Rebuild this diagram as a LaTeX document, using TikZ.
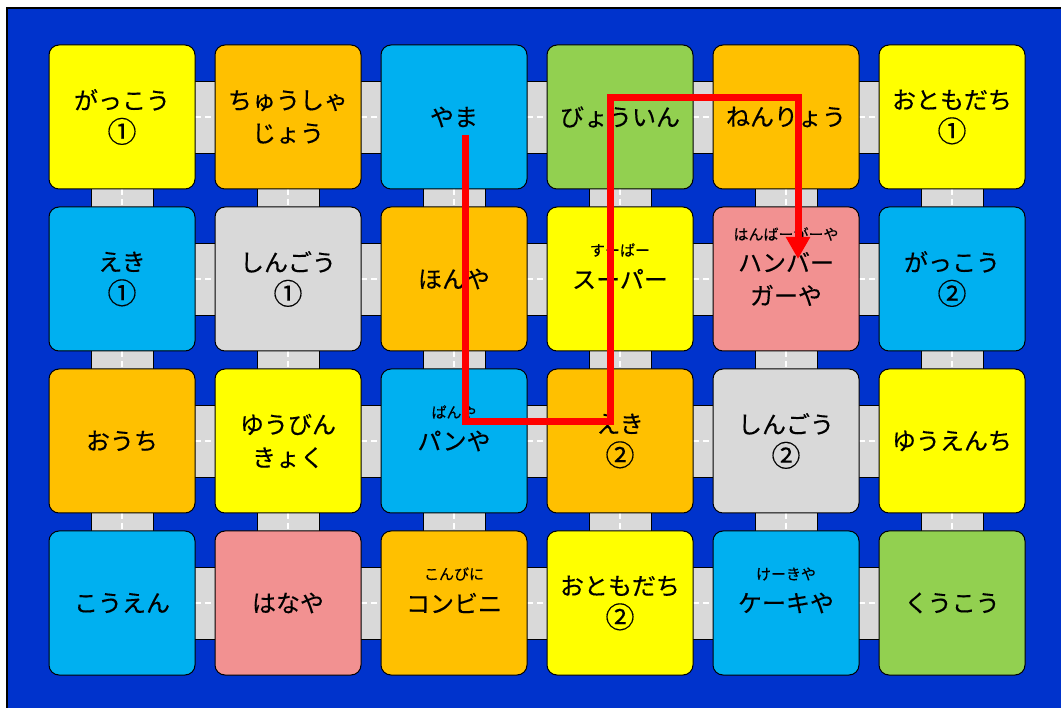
\documentclass[tikz,border=0pt]{standalone}
\usepackage{fontspec}
\setmainfont{Noto Sans CJK JP}[FakeBold=0.3]
\usetikzlibrary{calc,arrows.meta}

\definecolor{boardblue}{RGB}{0,51,204}
\definecolor{roadgray}{RGB}{217,217,217}
\definecolor{tileyellow}{RGB}{255,255,0}
\definecolor{tileorange}{RGB}{255,192,0}
\definecolor{tileblue}{RGB}{0,176,240}
\definecolor{tilegreen}{RGB}{146,208,80}
\definecolor{tilegray}{RGB}{217,217,217}
\definecolor{tilepink}{RGB}{242,145,145}

\newcommand{\bignum}[1]{{\fontsize{29}{33}\selectfont #1}}

\tikzset{
  tile/.style={draw=black, line width=1pt, rounded corners=10pt,
    minimum width=146pt, minimum height=144pt, align=center,
    font=\fontsize{24}{33}\selectfont, inner sep=0pt},
  ruby/.style={font=\fontsize{15}{16}\selectfont, inner sep=0pt},
  road/.style={draw=black, line width=0.8pt, fill=roadgray},
  roadline/.style={draw=white, line width=1.2pt, dash pattern=on 6pt off 4pt},
  route/.style={draw=red, line width=7pt, -{Triangle[width=23pt,length=22pt]}}
}

\begin{document}
\begin{tikzpicture}[x=1pt,y=-1pt]
  \useasboundingbox (0,0) rectangle (1061,708);
  \fill[white] (0,0) rectangle (1061,708);
  \draw[fill=boardblue, line width=1.5pt] (7,8) rectangle (1065,712);

  % roads
  \foreach \c in {0,...,4}
    \foreach \r in {0,...,3} {
      \draw[road] ({122+166*\c},{81+162*\r}) rectangle ({288+166*\c},{153+162*\r});
      \draw[roadline] ({195+166*\c},{117+162*\r}) -- ({215+166*\c},{117+162*\r});
    }
  \foreach \c in {0,...,5}
    \foreach \r in {0,...,2} {
      \draw[road] ({91+166*\c},{117+162*\r}) rectangle ({153+166*\c},{279+162*\r});
      \draw[roadline] ({122+166*\c},{189+162*\r}) -- ({122+166*\c},{207+162*\r});
    }

  % row 1
  \node[tile, fill=tileyellow] (gakkou1) at (122,117) {がっこう\\\bignum{①}};
  \node[tile, fill=tileorange] (chushajo) at (288,117) {ちゅうしゃ\\じょう};
  \node[tile, fill=tileblue] (yama) at (454,117) {やま};
  \node[tile, fill=tilegreen] (byouin) at (620,117) {びょういん};
  \node[tile, fill=tileorange] (nenryou) at (786,117) {ねんりょう};
  \node[tile, fill=tileyellow] (tomodachi1) at (952,117) {おともだち\\\bignum{①}};
  % row 2
  \node[tile, fill=tileblue] (eki1) at (122,279) {えき\\\bignum{①}};
  \node[tile, fill=tilegray] (shingou1) at (288,279) {しんごう\\\bignum{①}};
  \node[tile, fill=tileorange] (honya) at (454,279) {ほんや};
  \node[tile, fill=tileyellow] (super) at (620,279) {スーパー};
  \node[tile, fill=tilepink] (hamburger) at (786,279) {ハンバー\\ガーや};
  \node[tile, fill=tileblue] (gakkou2) at (952,279) {がっこう\\\bignum{②}};
  % row 3
  \node[tile, fill=tileorange] (ouchi) at (122,441) {おうち};
  \node[tile, fill=tileyellow] (yuubin) at (288,441) {ゆうびん\\きょく};
  \node[tile, fill=tileblue] (panya) at (454,441) {パンや};
  \node[tile, fill=tileorange] (eki2) at (620,441) {えき\\\bignum{②}};
  \node[tile, fill=tilegray] (shingou2) at (786,441) {しんごう\\\bignum{②}};
  \node[tile, fill=tileyellow] (yuuenchi) at (952,441) {ゆうえんち};
  % row 4
  \node[tile, fill=tileblue] (kouen) at (122,603) {こうえん};
  \node[tile, fill=tilepink] (hanaya) at (288,603) {はなや};
  \node[tile, fill=tileorange] (konbini) at (454,603) {コンビニ};
  \node[tile, fill=tileyellow] (tomodachi2) at (620,603) {おともだち\\\bignum{②}};
  \node[tile, fill=tileblue] (keekiya) at (786,603) {ケーキや};
  \node[tile, fill=tilegreen] (kuukou) at (952,603) {くうこう};

  % ruby
  \node[ruby] (superruby) at ($(super.center)+(0,-29)$) {すーぱー};
  \node[ruby] (hamburgerruby) at ($(hamburger.center)+(0,-45)$) {はんばーがーや};
  \node[ruby] (panyaruby) at ($(panya.center)+(0,-29)$) {ぱんや};
  \node[ruby] (konbiniruby) at ($(konbini.center)+(0,-29)$) {こんびに};
  \node[ruby] (keekiyaruby) at ($(keekiya.center)+(0,-29)$) {けーきや};

  % route
  \coordinate (start) at (465,135);
  \coordinate (turn1) at (610,422);
  \coordinate (turn2) at (798,98);
  \coordinate (goal) at (798,259);
  \draw[route] (start) |- (turn1) -- (turn1 |- turn2) -- (turn2) -- (goal);
\end{tikzpicture}
\end{document}
